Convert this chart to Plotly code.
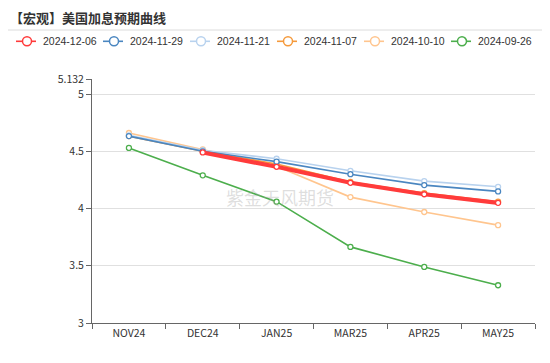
import plotly.graph_objects as go

categories = ["NOV24", "DEC24", "JAN25", "MAR25", "APR25", "MAY25"]
series_names = ["2024-12-06", "2024-11-29", "2024-11-21", "2024-11-07", "2024-10-10", "2024-09-26"]
s_1206 = [None, 4.49, 4.365, 4.225, 4.125, 4.05]
s_1129 = [4.633, 4.50, 4.41, 4.30, 4.205, 4.15]
s_1121 = [4.64, 4.51, 4.435, 4.33, 4.24, 4.19]
s_1107 = [4.633, 4.50, 4.39, 4.232, 4.135, 4.06]
s_1010 = [4.66, 4.517, 4.37, 4.10, 3.97, 3.855]
s_0926 = [4.53, 4.29, 4.06, 3.665, 3.49, 3.33]
y_ticks = [3, 3.5, 4, 4.5, 5, 5.132]
y_tick_labels = ["3", "3.5", "4", "4.5", "5", "5.132"]

values = [s_1206, s_1129, s_1121, s_1107, s_1010, s_0926]
colors = ["#ff3b3b", "#4a86c0", "#b8d2ee", "#f59a3c", "#ffc58e", "#4cae4c"]
widths = [4.2, 1.6, 1.6, 1.6, 1.6, 1.6]

font_family = "Noto Sans CJK SC, Noto Sans, sans-serif"

# page body has an 8px default margin: figure is sized/offset to compensate
W, H = 542, 355
ML, MR, MT, MB = 84, 15, 71, 40
PW, PH = W - ML - MR, H - MT - MB


def px_x(xf):
    return (xf - ML) / PW


def px_y(yf):
    return 1 + (MT - yf) / PH


fig = go.Figure()
# draw oldest first so the latest (red) line sits on top
for i in reversed(range(len(series_names))):
    fig.add_trace(go.Scatter(
        x=categories, y=values[i], name=series_names[i],
        mode="lines+markers",
        line=dict(color=colors[i], width=widths[i]),
        marker=dict(symbol="circle", size=5, color="white",
                    line=dict(color=colors[i], width=1.3)),
        connectgaps=False,
        showlegend=False,
    ))

fig.update_layout(
    width=W, height=H,
    margin=dict(l=ML, r=MR, t=MT, b=MB, autoexpand=False),
    paper_bgcolor="white", plot_bgcolor="white",
    font=dict(family=font_family, size=11, color="#333"),
    showlegend=False,
    title=dict(text="<b>【宏观】美国加息预期曲线</b>", x=2 / W, xanchor="left",
               xref="container", yref="container",
               y=1 - 10 / H, yanchor="middle",
               font=dict(size=13, color="#333", family=font_family)),
)

fig.update_xaxes(
    type="category", showgrid=False,
    showline=True, linecolor="#666", linewidth=1,
    ticks="outside", tickson="boundaries", ticklen=5, tickcolor="#666",
    tickfont=dict(size=10.5, color="#333"),
    range=[-0.5, 5.5],
)
fig.update_yaxes(
    range=[3, 5.132], tickvals=y_ticks, ticktext=y_tick_labels,
    showgrid=True, gridcolor="#e0e0e0", gridwidth=1,
    showline=True, linecolor="#666", linewidth=1,
    ticks="outside", ticklen=5, tickcolor="#666",
    tickfont=dict(size=10.5, color="#333"), zeroline=False,
)

# separator line beneath the title
fig.add_shape(type="line", xref="paper", yref="paper",
              x0=-ML / PW, x1=1 + MR / PW, y0=px_y(22), y1=px_y(22),
              line=dict(color="#dcdcdc", width=1))

# legend drawn as a row of line+circle symbols with labels
step, ly, r = 87, 33.3, 4.5
for i, name in enumerate(series_names):
    x0 = 8 + step * i
    fig.add_shape(type="line", xref="paper", yref="paper",
                  x0=px_x(x0), x1=px_x(x0 + 20), y0=px_y(ly), y1=px_y(ly),
                  line=dict(color=colors[i], width=1.6))
    cx = x0 + 11
    fig.add_shape(type="circle", xref="paper", yref="paper",
                  x0=px_x(cx - r), x1=px_x(cx + r), y0=px_y(ly + r), y1=px_y(ly - r),
                  fillcolor="white", line=dict(color=colors[i], width=1.5))
    fig.add_annotation(text=name, xref="paper", yref="paper",
                       x=px_x(x0 + 24.5), y=px_y(ly), xanchor="left", yanchor="middle",
                       showarrow=False,
                       font=dict(size=10.5, color="#333", family="Liberation Sans, Arial, sans-serif"))

# watermark
fig.add_annotation(text="紫金天风期货", xref="paper", yref="paper",
                   x=px_x(272), y=px_y(189), showarrow=False,
                   font=dict(size=18, color="rgba(160,160,160,0.35)", family=font_family))

fig.write_html("out.html")
